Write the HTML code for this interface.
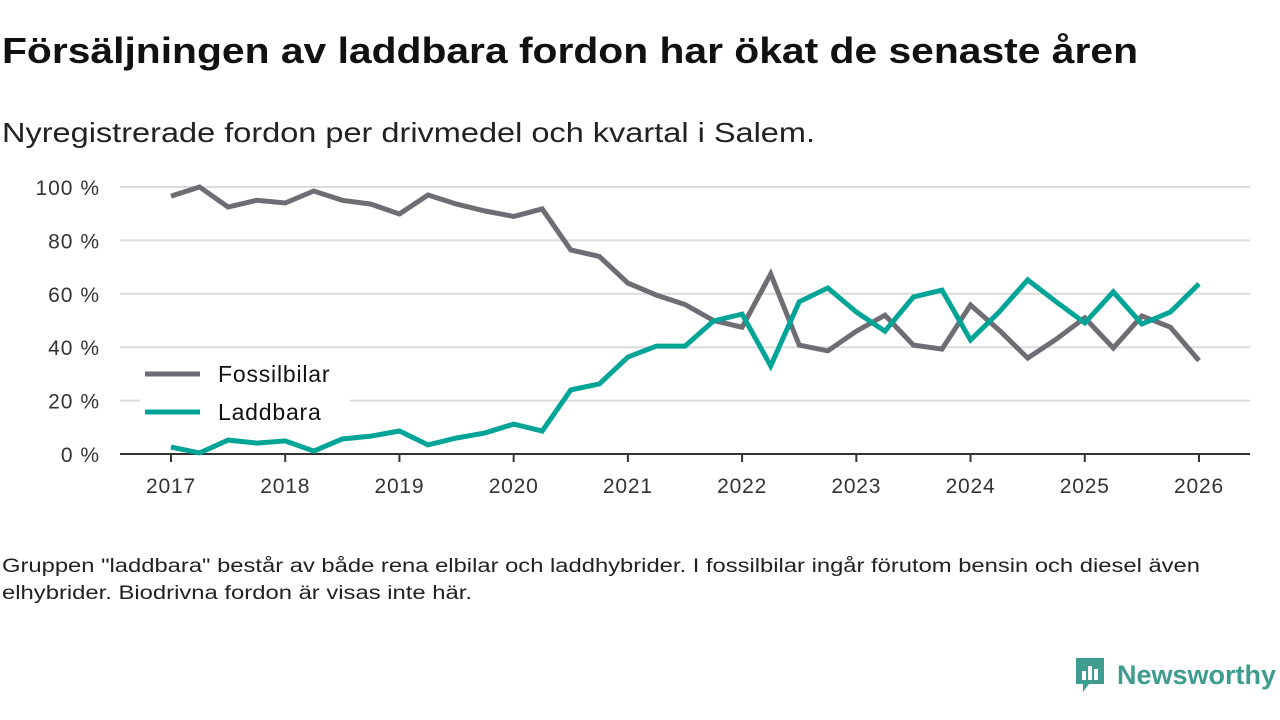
<!DOCTYPE html>
<html><head><meta charset="utf-8"><style>
body{margin:0;width:1280px;height:720px;background:#fff;font-family:"Liberation Sans","DejaVu Sans",sans-serif;overflow:hidden;position:relative}
.fit{position:absolute;left:2px;margin:0;white-space:nowrap;transform-origin:0 0}
h1.fit{top:30px;font-size:36px;font-weight:bold;color:#111}
.sub{top:117px;font-size:28px;color:#222}
.n1{top:556px;font-size:19px;color:#222}
.n2{top:583px;font-size:19px;color:#222}
svg{position:absolute;left:0;top:0}
</style></head><body>
<h1 class="fit" data-w="1136">Försäljningen av laddbara fordon har ökat de senaste åren</h1>
<div class="fit sub" data-w="813">Nyregistrerade fordon per drivmedel och kvartal i Salem.</div>
<svg id="chart" width="1280" height="720"></svg>
<div class="fit n1" data-w="1198">Gruppen "laddbara" består av både rena elbilar och laddhybrider. I fossilbilar ingår förutom bensin och diesel även</div>
<div class="fit n2" data-w="470">elhybrider. Biodrivna fordon är visas inte här.</div>
<div style="position:absolute;left:1073px;top:656px;display:flex;align-items:center">
<svg width="34" height="38" style="position:static"><path d="M3 2h28v26H16l-6 8v-8H3z" fill="#3e9d8f"/><rect x="9" y="15" width="4" height="9" fill="#fff"/><rect x="15" y="10" width="4" height="14" fill="#fff"/><rect x="21" y="13" width="4" height="11" fill="#fff"/></svg>
<span style="font-size:27px;color:#3e9d8f;font-weight:bold;margin-left:10px">Newsworthy</span></div>
<script>
const years=[2017,2018,2019,2020,2021,2022,2023,2024,2025,2026];
const yTicks=[0,20,40,60,80,100];
const fossil=[96.6,100,92.5,95,94,98.5,95,93.6,89.9,97,93.6,91,89,91.8,76.4,74,64,59.5,56,50,47.5,67.4,40.8,38.6,46,52,40.8,39.3,55.8,46.4,35.9,43,51,39.7,51.7,47.5,35];
const laddbara=[2.6,0.4,5.2,4.1,4.9,1.1,5.6,6.7,8.6,3.4,6,7.9,11.2,8.6,24,26.2,36.3,40.4,40.4,49.8,52.4,33,57,62.2,53.2,46,58.8,61.4,42.7,53.2,65.2,57,49.1,60.7,48.7,53.2,63.7];
document.querySelectorAll('.fit').forEach(e=>{const w=+e.dataset.w;const a=e.getBoundingClientRect().width;e.style.transform='scaleX('+(w/a)+')';});
const svg=document.getElementById('chart');const NS='http://www.w3.org/2000/svg';
const X=t=>171+(t-2017)*114.22;const Y=v=>454-v*2.67;
function mk(tag,at,txt){const e=document.createElementNS(NS,tag);for(const k in at)e.setAttribute(k,at[k]);if(txt!=null)e.textContent=txt;svg.appendChild(e);return e;}
yTicks.forEach(v=>{
 if(v>0){const g=mk('line',{x1:120,x2:1250,y1:Y(v),y2:Y(v),stroke:'#dcdcdc','stroke-width':2});
 
 }
 const t=mk('text',{x:100,y:Y(v)+8,'text-anchor':'end','font-size':21,'letter-spacing':1,fill:'#333'},v+' %');
 
 
});
const ax=mk('line',{x1:120,x2:1250,y1:454,y2:454,stroke:'#333','stroke-width':2});


years.forEach(y=>{
 const tk=mk('line',{x1:X(y),x2:X(y),y1:454,y2:462,stroke:'#333','stroke-width':2});
 
 
 const t=mk('text',{x:X(y),y:493,'text-anchor':'middle','font-size':21,'letter-spacing':0.8,fill:'#333'},y);
 
 
});
function line(d,c,n){const p=d.map((v,i)=>X(2017+i/4).toFixed(1)+','+Y(v).toFixed(1)).join(' ');
 const l=mk('polyline',{points:p,fill:'none',stroke:c,'stroke-width':5,'stroke-linejoin':'miter'});
 
 }
line(fossil,'#6e6d74','fossilbilar-line');
line(laddbara,'#00a597','laddbara-line');
mk('rect',{x:140,y:355,width:210,height:75,fill:'#fff'});
[['Fossilbilar','#6e6d74',374],['Laddbara','#00a597',412]].forEach(([n,c,y])=>{
 const l=mk('line',{x1:145,x2:200,y1:y,y2:y,stroke:c,'stroke-width':5});
 
 
 const t=mk('text',{x:218,y:y+8,'font-size':23,'letter-spacing':0.8,fill:'#111'},n);
 
 
});
</script>
</body></html>
